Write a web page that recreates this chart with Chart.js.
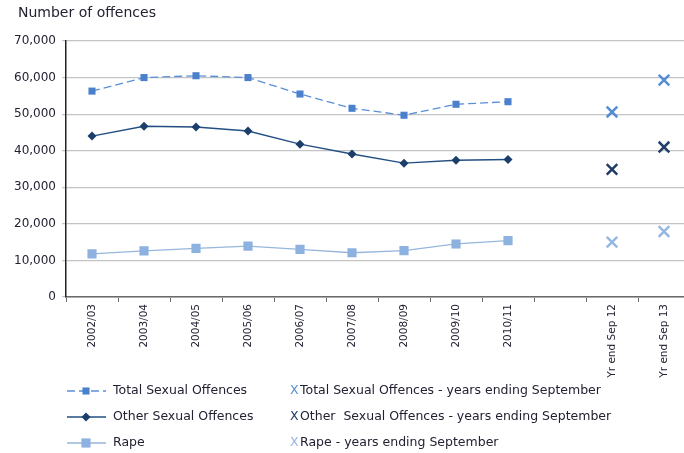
<!DOCTYPE html>
<html>
<head>
<meta charset="utf-8">
<script src="https://cdn.jsdelivr.net/npm/chart.js@4.4.0/dist/chart.umd.min.js"></script>
<style>
  html, body { margin: 0; padding: 0; background: #fff; overflow: hidden; }
</style>
</head>
<body>
<canvas id="line-chart-area" width="700" height="453"></canvas>
<script>
var arrLabel = ['2002/03', '2003/04', '2004/05', '2005/06', '2006/07', '2007/08', '2008/09', '2009/10', '2010/11', '', 'Yr end Sep 12', 'Yr end Sep 13'];

var arrTotal = [56300, 60000, 60500, 60000, 55500, 51600, 49700, 52700, 53400];
var arrOther = [44000, 46700, 46500, 45400, 41800, 39100, 36600, 37400, 37600];
var arrRape = [11800, 12600, 13300, 13900, 13000, 12100, 12700, 14500, 15400];

var arrTotalSep = [50600, 59300];
var arrOtherSep = [34900, 41000];
var arrRapeSep = [15000, 17900];

var yTicksMax = 70000;
var yTicksStep = 10000;
var yTitle = 'Number of offences';

var FONT = '"DejaVu Sans", Verdana, sans-serif';
var TEXT = '#222233';

// years ending September sit in the last categories
function padSep(values) {
    var out = [];
    for (var i = 0; i < arrLabel.length - values.length; i++) out.push(null);
    return out.concat(values);
}

// axis caption top left + two column legend under the axis labels
var legendPlugin = {
    id: 'bottomLegend',
    afterDraw: function (chart) {
        var ctx = chart.ctx;
        var rows = [391, 417, 443];
        ctx.save();
        ctx.textBaseline = 'middle';
        ctx.fillStyle = TEXT;
        ctx.font = '14px ' + FONT;
        ctx.fillText(yTitle, 18, 13);
        ctx.font = '12.5px ' + FONT;
        chart.data.datasets.forEach(function (ds, i) {
            var y = rows[i % 3];
            if (i < 3) {
                ctx.strokeStyle = ds.borderColor;
                ctx.lineWidth = ds.borderWidth;
                ctx.setLineDash(ds.borderDash || []);
                ctx.beginPath();
                ctx.moveTo(67, y);
                ctx.lineTo(106, y);
                ctx.stroke();
                ctx.setLineDash([]);
                ctx.fillStyle = ds.pointBackgroundColor;
                ctx.beginPath();
                if (ds.pointStyle === 'rectRot') {
                    ctx.moveTo(86, y - 4.5);
                    ctx.lineTo(90.5, y);
                    ctx.lineTo(86, y + 4.5);
                    ctx.lineTo(81.5, y);
                    ctx.closePath();
                } else {
                    var h = ds.pointRadius * Math.SQRT1_2;
                    ctx.rect(86 - h, y - h, 2 * h, 2 * h);
                }
                ctx.fill();
                ctx.fillStyle = TEXT;
                ctx.fillText(ds.label, 113, y);
            } else {
                ctx.fillStyle = ds.borderColor;
                ctx.fillText('X', 290, y);
                ctx.fillStyle = TEXT;
                ctx.fillText(ds.label, 300, y);
            }
        });
        ctx.restore();
    }
};

var configLine = {
    type: 'line',
    data: {
        labels: arrLabel,
        datasets: [
        {
            label: 'Total Sexual Offences',
            data: arrTotal,
            borderColor: '#5B8FD8',
            borderWidth: 1.3,
            borderDash: [8, 4],
            pointStyle: 'rect',
            pointRadius: 5,
            pointBackgroundColor: '#4A80CC',
            pointBorderWidth: 0
        }, {
            label: 'Other Sexual Offences',
            data: arrOther,
            borderColor: '#234F82',
            borderWidth: 1.4,
            pointStyle: 'rectRot',
            pointRadius: 4.5,
            pointBackgroundColor: '#1B3E6A',
            pointBorderWidth: 0
        }, {
            label: 'Rape',
            data: arrRape,
            borderColor: '#97B6DC',
            borderWidth: 1.3,
            pointStyle: 'rect',
            pointRadius: 6.5,
            pointBackgroundColor: '#8EB2E0',
            pointBorderWidth: 0
        }, {
            label: 'Total Sexual Offences - years ending September',
            data: padSep(arrTotalSep),
            borderColor: '#558ED5',
            showLine: false,
            pointStyle: 'crossRot',
            pointRadius: 7.5,
            pointBorderWidth: 2.5
        }, {
            label: 'Other  Sexual Offences - years ending September',
            data: padSep(arrOtherSep),
            borderColor: '#1F3D66',
            showLine: false,
            pointStyle: 'crossRot',
            pointRadius: 7.5,
            pointBorderWidth: 2.5
        }, {
            label: 'Rape - years ending September',
            data: padSep(arrRapeSep),
            borderColor: '#95B8E3',
            showLine: false,
            pointStyle: 'crossRot',
            pointRadius: 7.5,
            pointBorderWidth: 2.5
        }]
    },
    options: {
        responsive: false,
        animation: false,
        layout: {
            padding: { top: 41, left: 0, right: 8, bottom: 0 }
        },
        plugins: {
            legend: { display: false },
            tooltip: { enabled: false },
            title: { display: false }
        },
        scales: {
            x: {
                offset: true,
                afterFit: function (scale) { scale.height = 156; },
                border: { color: '#6b6b6b', width: 1.5 },
                grid: { drawOnChartArea: false, drawTicks: true, tickLength: 5, offset: true, color: '#6b6b6b' },
                ticks: {
                    autoSkip: false,
                    minRotation: 90,
                    maxRotation: 90,
                    padding: 2,
                    color: TEXT,
                    font: { family: FONT, size: 10.5 }
                }
            },
            y: {
                min: 0,
                max: yTicksMax,
                afterFit: function (scale) { scale.width = 66; },
                border: { color: '#222', width: 1.5 },
                grid: { color: '#c4c4c4', lineWidth: 1.2, tickLength: 4 },
                ticks: {
                    stepSize: yTicksStep,
                    padding: 6,
                    color: TEXT,
                    font: { family: FONT, size: 12 }
                }
            }
        }
    },
    plugins: [legendPlugin]
};

var ctxLine = document.getElementById('line-chart-area').getContext('2d');
var myLine = new Chart(ctxLine, configLine);
</script>
</body>
</html>
